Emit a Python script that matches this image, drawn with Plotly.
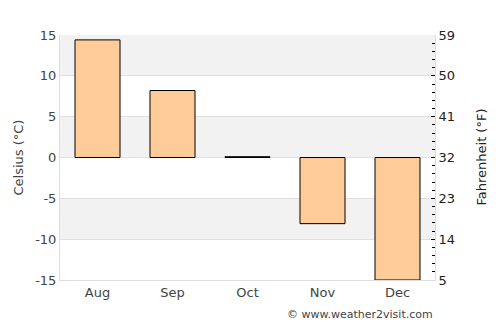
import plotly.graph_objects as go

months = ["Aug", "Sep", "Oct", "Nov", "Dec"]
celsius = [14.4, 8.2, 0.1, -8.1, -15.0]
c_ticks = [-15, -10, -5, 0, 5, 10, 15]
f_ticks = [5, 14, 23, 32, 41, 50, 59]

fig = go.Figure()
fig.add_trace(go.Bar(x=months, y=celsius, marker=dict(color="#ffcc99", line=dict(color="black", width=1)),
                     width=0.6, hoverinfo="skip"))
fig.add_trace(go.Scatter(x=months, y=[32]*5, yaxis="y2", mode="markers", marker=dict(opacity=0),
                         hoverinfo="skip", showlegend=False))

# alternating bands
for lo in [10, 0, -10]:
    fig.add_shape(type="rect", xref="paper", yref="y", x0=0, x1=1, y0=lo, y1=lo + 5,
                  fillcolor="#f2f2f2", line=dict(width=0), layer="below")

font = "DejaVu Sans, sans-serif"
fig.update_layout(
    width=500, height=325,
    margin=dict(l=60, r=65, t=35, b=45, autoexpand=False),
    plot_bgcolor="white", paper_bgcolor="white",
    showlegend=False, bargap=0.4,
    font=dict(family=font, size=13, color="#444"),
    xaxis=dict(showgrid=False, showline=True, linecolor="#dddddd", linewidth=1, automargin=False,
               tickfont=dict(size=13, color="#444"), ticks=""),
    yaxis=dict(range=[-15, 15], tickvals=c_ticks, ticktext=[str(v) for v in c_ticks],
               showgrid=True, gridcolor="#e0e0e0", automargin=False,
               zeroline=False, showline=True, linecolor="#dddddd", linewidth=1,
               tickfont=dict(size=13, color="#444")),
    yaxis2=dict(range=[5, 59], tickvals=f_ticks, ticktext=[str(v) for v in f_ticks],
                overlaying="y", side="right", showgrid=False, automargin=False,
                zeroline=False, showline=True, linecolor="#dddddd", linewidth=1,
                ticks="inside", ticklen=4, tickcolor="black",
                minor=dict(ticks="inside", dtick=1.8, tick0=5, ticklen=3, tickcolor="black"),
                tickfont=dict(size=13, color="#222")),
    annotations=[
        dict(text="© www.weather2visit.com", xref="paper", yref="paper", x=1, y=0,
             xanchor="right", yanchor="top", yshift=-26, showarrow=False,
             font=dict(size=11, color="#444")),
        dict(text="Celsius (°C)", xref="paper", yref="paper", x=0, y=0.5, xshift=-42,
             textangle=-90, showarrow=False, xanchor="center", yanchor="middle",
             font=dict(size=13, color="#444")),
        dict(text="Fahrenheit (°F)", xref="paper", yref="paper", x=1, y=0.5, xshift=46,
             textangle=-90, showarrow=False, xanchor="center", yanchor="middle",
             font=dict(size=13, color="#222")),
    ],
)
fig.write_html("out.html")
